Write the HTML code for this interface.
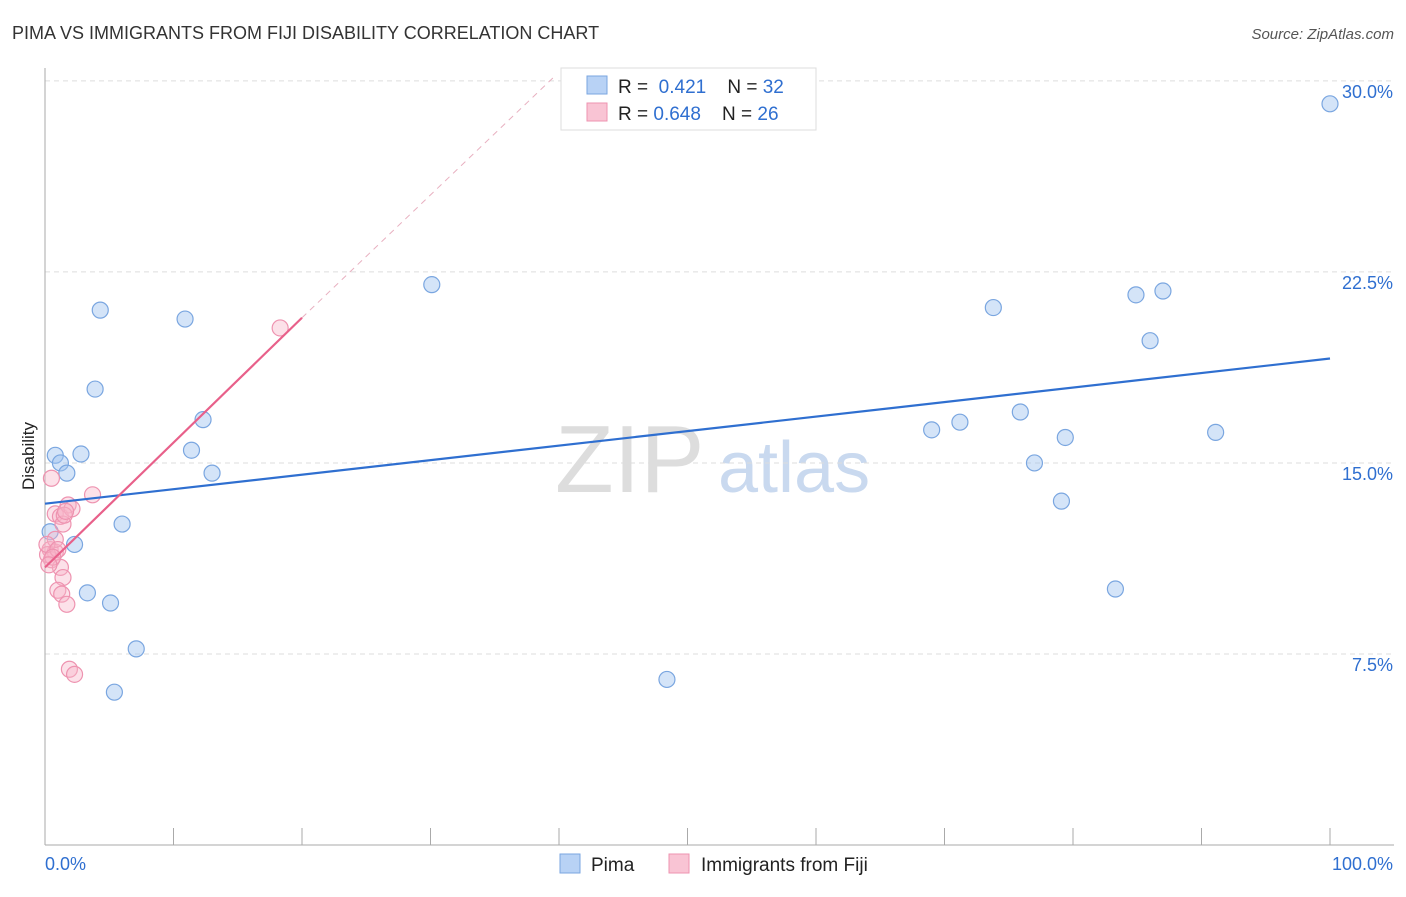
<!DOCTYPE html>
<html><head><meta charset="utf-8"><style>
body{margin:0;background:#fff;font-family:"Liberation Sans",sans-serif}
svg text{font-family:"Liberation Sans",sans-serif}
</style></head><body>
<svg id="c" width="1406" height="892">
<text x="12" y="39" font-size="18" fill="#333">PIMA VS IMMIGRANTS FROM FIJI DISABILITY CORRELATION CHART</text>
<text x="1394" y="39" font-size="15" fill="#555" font-style="italic" text-anchor="end">Source: ZipAtlas.com</text>
<text x="555" y="492" font-size="96" fill="#ddd" font-family="Liberation Serif">ZIP</text>
<text x="718" y="492" font-size="72" fill="#c9d9ef">atlas</text>
<g id="grid"></g><g id="axes"></g><g id="pts"></g><g id="lines"></g>
<text x="34" y="456" font-size="17" fill="#222" transform="rotate(-90 34 456)" text-anchor="middle">Disability</text>
<g>
<rect x="561" y="68" width="255" height="62" fill="#fff" stroke="#ddd"/>
<rect x="587" y="76" width="20" height="18" fill="#b8d2f5" stroke="#7aa6e0"/>
<rect x="587" y="103" width="20" height="18" fill="#f9c4d4" stroke="#ee93b0"/>
<text x="618" y="93" font-size="19" fill="#222">R = <tspan fill="#2f6fd0">&#160;0.421</tspan>&#160;&#160;&#160; N = <tspan fill="#2f6fd0">32</tspan></text>
<text x="618" y="120" font-size="19" fill="#222">R = <tspan fill="#2f6fd0">0.648</tspan>&#160;&#160;&#160; N = <tspan fill="#2f6fd0">26</tspan></text>
</g>
<g>
<rect x="560" y="854" width="20" height="19" fill="#b8d2f5" stroke="#7aa6e0"/>
<text x="591" y="871" font-size="19" fill="#222">Pima</text>
<rect x="669" y="854" width="20" height="19" fill="#f9c4d4" stroke="#ee93b0"/>
<text x="701" y="871" font-size="19" fill="#222">Immigrants from Fiji</text>
</g>
<text x="45" y="870" font-size="18" fill="#2f6fd0">0.0%</text>
<text x="1393" y="870" font-size="18" fill="#2f6fd0" text-anchor="end">100.0%</text>
</svg>
<script>
const yTicks=[7.5,15,22.5,30];
const yTickLabels=["7.5%","15.0%","22.5%","30.0%"];
const pimaX=[0.8,1.2,1.7,2.8,4.3,3.9,10.9,12.3,11.4,13.0,6.0,2.3,3.3,5.1,7.1,5.4,30.1,48.4,73.8,84.9,87.0,86.0,69.0,71.2,75.9,79.4,77.0,79.1,83.3,91.1,100,0.4];
const pimaY=[15.3,15.0,14.6,15.35,21.0,17.9,20.65,16.7,15.5,14.6,12.6,11.8,9.9,9.5,7.7,6.0,22.0,6.5,21.1,21.6,21.75,19.8,16.3,16.6,17.0,16.0,15.0,13.5,10.05,16.2,29.1,12.3];
const fijiX=[0.5,0.8,1.2,1.8,2.1,1.4,3.7,1.5,0.4,0.8,0.5,1.2,1.4,1.0,1.3,1.7,1.9,2.3,18.3,0.8,0.2,0.15,1.0,0.6,1.6,0.3];
const fijiY=[14.4,13.0,12.9,13.35,13.2,12.6,13.75,12.95,11.6,11.5,11.2,10.9,10.5,10.0,9.85,9.45,6.9,6.7,20.3,12.0,11.4,11.8,11.6,11.3,13.1,11.0];
const pimaTrend=[13.4,19.1];
const fijiTrend=[10.9,20.7];
const fijiTrendExtEnd=[39.7,30.2];
const X=v=>45+v*12.85, Y=v=>845-v*25.47;
const NS="http://www.w3.org/2000/svg";
function mk(tag,attrs,parent){const e=document.createElementNS(NS,tag);for(const k in attrs)e.setAttribute(k,attrs[k]);document.getElementById(parent).appendChild(e);return e;}
yTicks.forEach((t,i)=>{
 const l=mk('line',{x1:45,x2:1394,y1:Y(t),y2:Y(t),stroke:'#ddd','stroke-dasharray':'5,4'},'grid');
 
 
 const tx=mk('text',{x:1393,y:Y(t)+17,'font-size':18,fill:'#2f6fd0','text-anchor':'end'},'grid');
 tx.textContent=yTickLabels[i];
 
 
});
let a=mk('line',{x1:45,x2:45,y1:68,y2:845,stroke:'#aaa'},'axes');


a=mk('line',{x1:45,x2:1394,y1:845,y2:845,stroke:'#aaa'},'axes');


for(let i=1;i<=10;i++){const t=mk('line',{x1:X(i*10),x2:X(i*10),y1:828,y2:845,stroke:'#aaa'},'axes');
 
 }
pimaX.forEach((x,i)=>{const c=mk('circle',{cx:X(x),cy:Y(pimaY[i]),r:8,fill:'rgba(160,195,240,0.45)',stroke:'#7aa6e0','stroke-width':1.2},'pts');
 
 });
fijiX.forEach((x,i)=>{const c=mk('circle',{cx:X(x),cy:Y(fijiY[i]),r:8,fill:'rgba(248,180,200,0.4)',stroke:'#ee93b0','stroke-width':1.2},'pts');
 
 });
let l=mk('line',{x1:X(0),y1:Y(pimaTrend[0]),x2:X(100),y2:Y(pimaTrend[1]),stroke:'#2f6fd0','stroke-width':2.2},'lines');


l=mk('line',{x1:X(20),y1:Y(fijiTrend[1]),x2:X(fijiTrendExtEnd[0]),y2:Y(fijiTrendExtEnd[1]),stroke:'#e8b0c0','stroke-width':1,'stroke-dasharray':'6,5'},'lines');


l=mk('line',{x1:X(0),y1:Y(fijiTrend[0]),x2:X(20),y2:Y(fijiTrend[1]),stroke:'#e8608a','stroke-width':2.2},'lines');


</script>
</body></html>
